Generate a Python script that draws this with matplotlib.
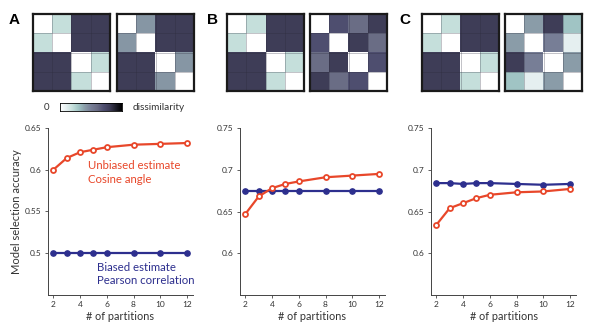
import numpy as np
import matplotlib
matplotlib.use("Agg")
import matplotlib.pyplot as plt
from matplotlib.colors import LinearSegmentedColormap

plt.rcParams['font.family'] = ['Lato', 'DejaVu Sans']

# ---------------- data ----------------
partitions = [2, 3, 4, 5, 6, 8, 10, 12]

A_unbiased = [0.600, 0.614, 0.621, 0.624, 0.627, 0.630, 0.631, 0.632]
A_biased = [0.500, 0.500, 0.500, 0.500, 0.500, 0.500, 0.500, 0.500]
B_unbiased = [0.647, 0.668, 0.678, 0.683, 0.686, 0.691, 0.693, 0.695]
B_biased = [0.675, 0.675, 0.675, 0.675, 0.675, 0.675, 0.675, 0.675]
C_unbiased = [0.634, 0.654, 0.660, 0.666, 0.670, 0.673, 0.674, 0.677]
C_biased = [0.684, 0.684, 0.683, 0.684, 0.684, 0.683, 0.682, 0.683]

A_yticks = [0.5, 0.55, 0.6, 0.65]
A_ylim = (0.45, 0.65)
BC_yticks = [0.6, 0.65, 0.7, 0.75]
BC_ylim = (0.55, 0.75)
xticks = [2, 4, 6, 8, 10, 12]

A_left = [[0, .2, .8, .8], [.2, 0, .8, .8], [.8, .8, 0, .2], [.8, .8, .2, 0]]
A_right = [[0, .42, .8, .8], [.42, 0, .8, .8], [.8, .8, 0, .42], [.8, .8, .42, 0]]
B_left = A_left
B_right = [[0, .7, .6, .8], [.7, 0, .8, .6], [.6, .8, 0, .7], [.8, .6, .7, 0]]
C_left = A_left
C_right = [[0, .4, .8, .3], [.4, 0, .5, .1], [.8, .5, 0, .4], [.3, .1, .4, 0]]

panel_letters = ['A', 'B', 'C']
unbiased_label = 'Unbiased estimate\nCosine angle'
biased_label = 'Biased estimate\nPearson correlation'

# ---------------- style ----------------
cmap = LinearSegmentedColormap.from_list('diss', [
    (0.0, '#ffffff'), (0.1, '#e5eff0'), (0.2, '#c5dfdb'), (0.3, '#a0c4c4'),
    (0.4, '#8a9ca8'), (0.5, '#787f97'), (0.6, '#6a6d85'), (0.7, '#4f4f70'),
    (0.8, '#3e3d57'), (1.0, '#000000')])
RED = '#e8472a'
BLUE = '#2d2f8e'
TXT = '#333333'

W, H = 591, 327
fig = plt.figure(figsize=(W / 100, H / 100), dpi=100)


def fx(px):
    return px / W


def fy(py):
    return 1 - py / H


def draw_matrix(x0, mat):
    ax = fig.add_axes([fx(x0), fy(91), fx(77), 77 / H])
    ax.imshow(np.array(mat), cmap=cmap, vmin=0, vmax=1, interpolation='nearest')
    for k in range(1, 4):
        ax.axhline(k - 0.5, color='#2a2a3a', lw=0.4, alpha=0.5)
        ax.axvline(k - 0.5, color='#2a2a3a', lw=0.4, alpha=0.5)
    ax.set_xticks([])
    ax.set_yticks([])
    for s in ax.spines.values():
        s.set_linewidth(1.6)
        s.set_color('#1a1a1a')
    return ax


mat_pos = [(33, A_left), (117, A_right), (227, B_left), (310, B_right),
           (422, C_left), (505, C_right)]
for x0, m in mat_pos:
    draw_matrix(x0, m)

# colorbar
cax = fig.add_axes([fx(60), fy(111), fx(62), 8 / H])
cax.imshow(np.linspace(0, 1, 256)[None, :], cmap=cmap, aspect='auto')
cax.set_xticks([])
cax.set_yticks([])
for s in cax.spines.values():
    s.set_linewidth(0.6)
fig.text(fx(46), fy(107), '0', ha='center', va='center', fontsize=7, color=TXT)
fig.text(fx(133), fy(107), 'dissimilarity', ha='left', va='center', fontsize=7.2, color=TXT)

# panel letters
for letter, px in zip(panel_letters, [14.5, 212, 405]):
    fig.text(fx(px), fy(20), letter, ha='center', va='center', fontsize=11,
             fontweight='bold', color='black', family=['Liberation Sans', 'DejaVu Sans'])


def line_panel(x0, unb, bia, yticks, ylim):
    ax = fig.add_axes([fx(x0), fy(295), fx(145), 167 / H])
    ax.plot(partitions, bia, '-o', color=BLUE, lw=1.6, ms=3.8,
            mfc=BLUE, mec=BLUE, mew=1)
    ax.plot(partitions, unb, '-o', color=RED, lw=1.6, ms=3.6,
            mfc='white', mec=RED, mew=1.3)
    ax.set_xlim(1.6, 12.45)
    ax.set_ylim(*ylim)
    ax.set_yticks(yticks)
    ax.set_yticklabels([f'{v:g}' for v in yticks])
    ax.set_xticks(xticks)
    for s in ['top', 'right']:
        ax.spines[s].set_visible(False)
    for s in ['left', 'bottom']:
        ax.spines[s].set_linewidth(0.7)
        ax.spines[s].set_color('#444444')
    ax.tick_params(direction='out', length=2.5, width=0.6, labelsize=6,
                   colors='#444444', labelcolor=TXT, pad=2)
    ax.set_xlabel('# of partitions', fontsize=7.8, color=TXT, labelpad=2)
    return ax


axA = line_panel(48, A_unbiased, A_biased, A_yticks, A_ylim)
axA.set_ylabel('Model selection accuracy', fontsize=8, color=TXT)
axA.yaxis.set_label_coords((22 - 48) / 145, 0.5)
axA.text((88 - 48) / 145, 1 - (172.5 - 128) / 167, unbiased_label,
         transform=axA.transAxes, ha='left', va='center', fontsize=8.2,
         color=RED, linespacing=1.3)
axA.text((97 - 48) / 145, 1 - (274 - 128) / 167, biased_label,
         transform=axA.transAxes, ha='left', va='center', fontsize=8.2,
         color=BLUE, linespacing=1.3)
line_panel(240, B_unbiased, B_biased, BC_yticks, BC_ylim)
line_panel(431, C_unbiased, C_biased, BC_yticks, BC_ylim)

fig.savefig('out.png', dpi=100)
